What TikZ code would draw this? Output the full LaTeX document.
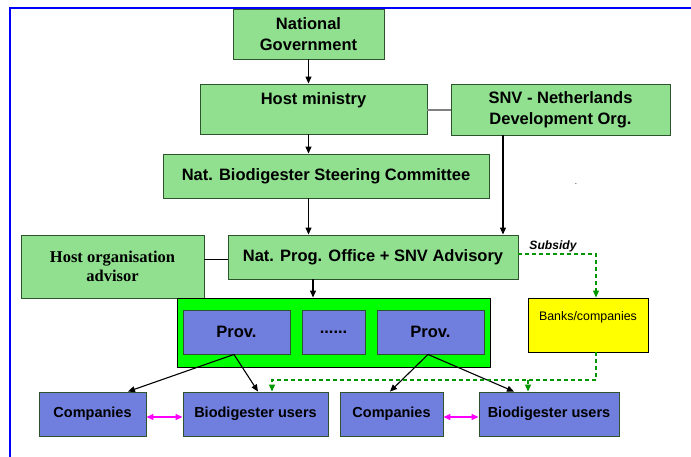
\documentclass[tikz,border=0pt]{standalone}
\usepackage{fontspec}
\setmainfont{Liberation Sans}
\newfontfamily\timesf{Liberation Serif}
\usetikzlibrary{arrows.meta}
\definecolor{lg}{RGB}{144,224,144}
\definecolor{lgb}{RGB}{45,85,45}
\definecolor{pv}{RGB}{112,126,222}
\definecolor{dg}{RGB}{0,150,0}
\definecolor{frameblue}{RGB}{0,0,255}
\definecolor{mg}{RGB}{255,0,255}
\definecolor{gg}{RGB}{0,255,0}
\definecolor{yy}{RGB}{255,255,0}
\begin{document}
\begin{tikzpicture}[x=1pt,y=-1pt,
  gbox/.style={draw=lgb,fill=lg,line width=0.9pt,inner sep=0pt,align=center,
    font=\bfseries\fontsize{16.5}{21}\selectfont},
  pbox/.style={draw=lgb,fill=pv,line width=0.9pt,inner sep=0pt,align=center,
    font=\bfseries\fontsize{16.5}{21}\selectfont},
  ubox/.style={draw=lgb,fill=pv,line width=0.9pt,inner sep=0pt,align=center,
    font=\bfseries\fontsize{14.5}{18}\selectfont},
  arr/.style={line width=1.1pt,-{Triangle[length=7pt,width=6pt]}},
  sub/.style={draw=dg,line width=1.1pt,dash pattern=on 4pt off 3pt},
  suba/.style={sub,-{Triangle[length=7pt,width=6pt]}},
  mag/.style={draw=mg,line width=1.4pt,{Triangle[length=7pt,width=6pt]}-{Triangle[length=7pt,width=6pt]}}]
\useasboundingbox (0,0) rectangle (691,457);
\draw[frameblue,line width=2.2pt] (691,8) -- (10,8) -- (10,457);
% boxes
\node[gbox,minimum width=151pt,minimum height=50pt] (ng) at (308.5,34) {National\\Government};
\node[gbox,minimum width=227pt,minimum height=50pt] (hm) at (313.5,109) {Host ministry\\\mbox{}};
\node[gbox,minimum width=219pt,minimum height=51pt] (snv) at (560.5,109.5) {SNV - Netherlands\\Development Org.};
\node[gbox,minimum width=326pt,minimum height=44pt] (sc) at (326,176) {Nat. Biodigester Steering Committee};
\node[gbox,minimum width=183pt,minimum height=63pt,font=\timesf\bfseries\fontsize{16.5}{19}\selectfont] (hoa) at (112.5,266.5) {Host organisation\\advisor};
\node[gbox,minimum width=290pt,minimum height=44pt] (npo) at (373,257) {Nat. Prog. Office + SNV Advisory};
\node[draw=black,fill=gg,line width=0.9pt,minimum width=313pt,minimum height=69pt] (gb) at (333.5,332.5) {};
\node[pbox,minimum width=107pt,minimum height=44pt] (p1) at (236.5,332) {Prov.};
\node[pbox,minimum width=63pt,minimum height=44pt] (dots) at (333.5,332) {......};
\node[pbox,minimum width=107pt,minimum height=44pt] (p2) at (430.5,332) {Prov.};
\node[draw=black,fill=yy,line width=0.9pt,minimum width=120pt,minimum height=54pt] (bank) at (588,325) {};
\node[font=\fontsize{12.4}{14}\selectfont,inner sep=0pt] (banktext) at (588,317) {Banks/companies};
\node[ubox,minimum width=107pt,minimum height=44pt] (c1) at (92.5,414) {Companies};
\node[ubox,minimum width=145pt,minimum height=44pt] (bu1) at (255.5,414) {Biodigester users};
\node[ubox,minimum width=103pt,minimum height=44pt] (c2) at (391.5,414) {Companies};
\node[ubox,minimum width=140pt,minimum height=44pt] (bu2) at (549,414) {Biodigester users};
\node[font=\fontsize{8}{9}\selectfont,inner sep=0pt] (dot) at (576,184) {.};
\node[font=\bfseries\itshape\fontsize{12.1}{14}\selectfont,inner sep=0pt] (subsidy) at (553,246) {Subsidy};
% connectors
\draw[arr] (ng.south) -- (ng.south |- hm.north);
\draw[arr] (hm.south -| ng.south) -- (sc.north -| ng.south);
\draw[arr] (sc.south -| ng.south) -- (npo.north -| ng.south);
\coordinate (sx) at (503,0);
\draw[arr] (snv.south -| sx) -- (npo.north -| sx);
\coordinate (hmy) at (0,110);
\draw[gray,line width=1.4pt] (hm.east |- hmy) -- (snv.west |- hmy);
\coordinate (hl) at (0,260);
\draw[black,line width=1pt] (hoa.east |- hl) -- (npo.west |- hl);
\coordinate (gx) at (313,0);
\draw[arr] (npo.south -| gx) -- (gb.north -| gx);
% province arrows
\draw[arr] ([xshift=-2.5pt]p1.south) -- ([xshift=35.5pt]c1.north);
\draw[arr] ([xshift=-2.5pt]p1.south) -- ([xshift=2.5pt]bu1.north);
\draw[arr] ([xshift=-2.5pt]p2.south) -- ([xshift=-1.5pt]c2.north);
\draw[arr] ([xshift=-2.5pt]p2.south) -- ([xshift=-35pt]bu2.north);
% subsidy
\draw[suba] ([yshift=3pt]npo.east) -| ([xshift=8pt]bank.north);
\coordinate (bj) at (596,380);
\draw[suba] ([xshift=8pt]bank.south) -- (bj) -| ([xshift=16.5pt]bu1.north);
\draw[suba] ([xshift=-21pt]bu2.north |- bj) -- ([xshift=-21pt]bu2.north);
% magenta
\draw[mag] ([yshift=-3pt]c1.east) -- ([yshift=-3pt]bu1.west);
\draw[mag] ([yshift=-3pt]c2.east) -- ([yshift=-3pt]bu2.west);
\end{tikzpicture}
\end{document}
